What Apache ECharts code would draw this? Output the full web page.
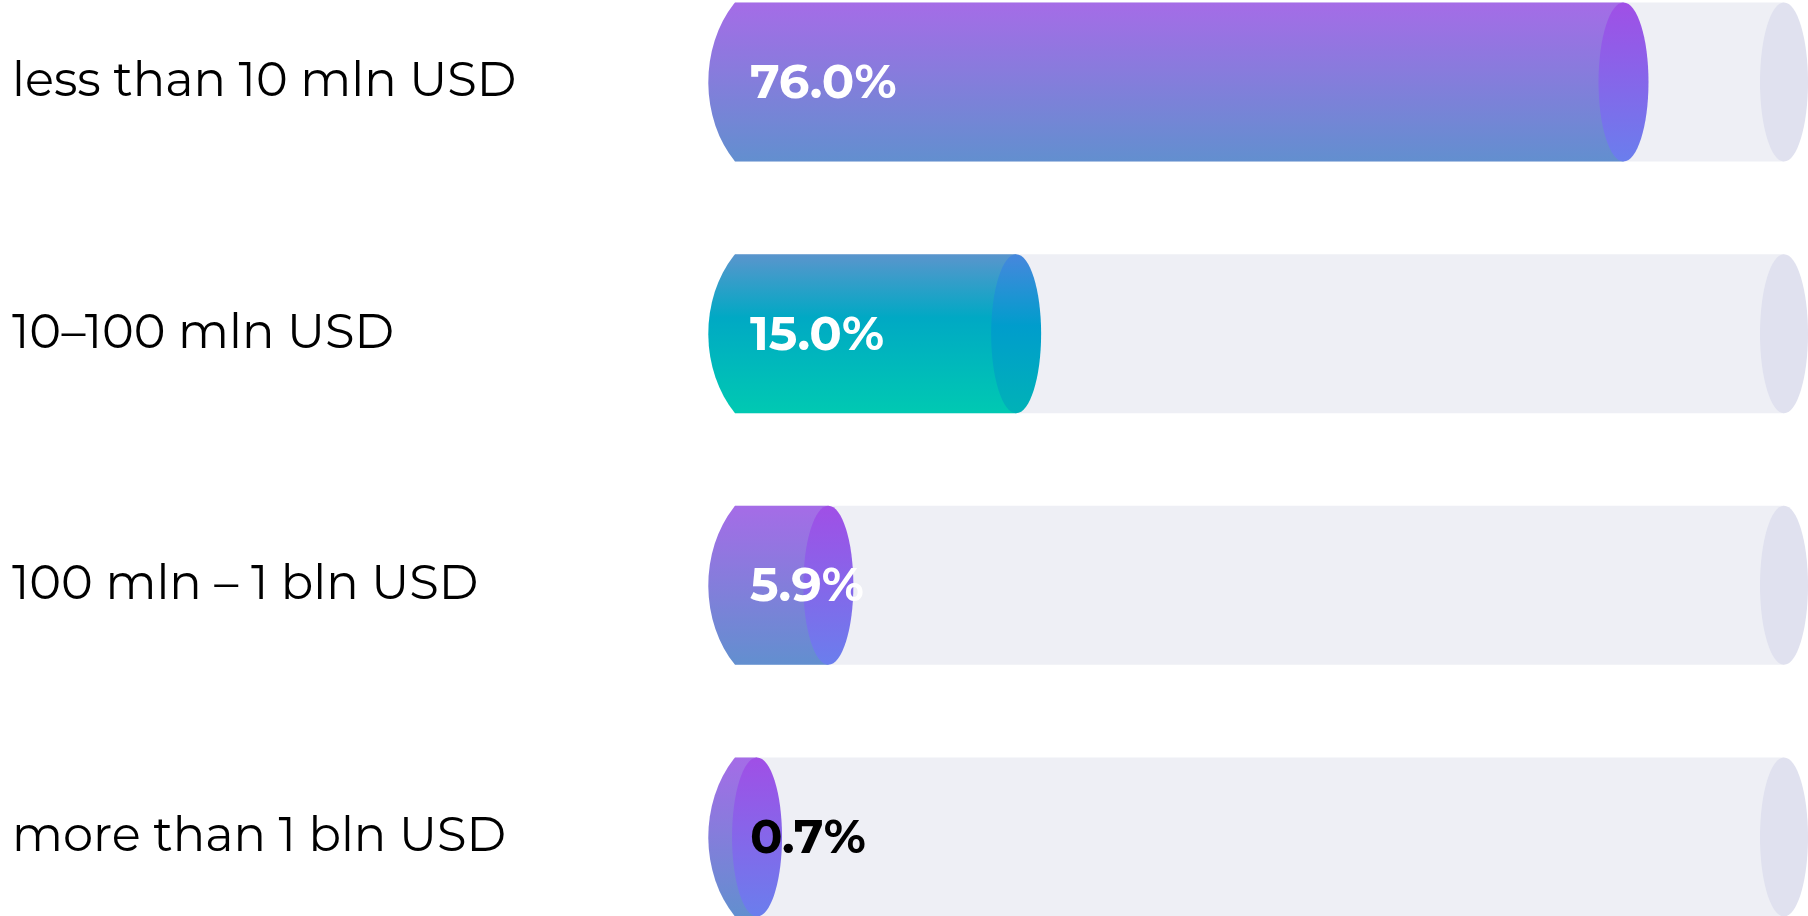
<!DOCTYPE html>
<html>
<head>
<meta charset="utf-8">
<script src="https://cdn.jsdelivr.net/npm/echarts@6/dist/echarts.min.js"></script>
<style>html,body{margin:0;padding:0;background:#fff;}#c{width:1808px;height:916px;}</style>
</head>
<body>
<div id="c"></div>
<script>
// categories (top to bottom)
const categories = ['less than 10 mln USD', '10–100 mln USD', '100 mln – 1 bln USD', 'more than 1 bln USD'];
// share labels shown on each cylinder (%)
const shares = [76.0, 15.0, 5.9, 0.7];
// drawn length of each cylinder, in % of the track
const barLengths = [84.7, 26.8, 8.9, 2.1];
// track full length (%)
const trackMax = [100, 100, 100, 100];
// colour theme per bar
const themes = ['purple', 'teal', 'purple', 'purple'];

const palettes = {
  purple: {
    body: [[0, '#a56ce7'], [1, '#628fcf']],
    cap: [[0, '#a04fe6'], [1, '#6a7eed']]
  },
  teal: {
    body: [[0, '#5a95cd'], [0.4, '#00a9c4'], [1, '#00c9b2']],
    cap: [[0, '#4787dd'], [0.45, '#009dcc'], [1, '#00b2b7']]
  }
};
function grad(stops) {
  return new echarts.graphic.LinearGradient(0, 0, 0, 1, stops.map(s => ({offset: s[0], color: s[1]})));
}

const data = categories.map((c, i) => [barLengths[i], i, shares[i], trackMax[i]]);

const chart = echarts.init(document.getElementById('c'), null, {renderer: 'canvas'});
chart.setOption({
  animation: false,
  backgroundColor: '#ffffff',
  grid: {left: 735, right: 24, top: 82, bottom: 79, containLabel: false},
  xAxis: {type: 'value', min: 0, max: 100, show: false},
  yAxis: {
    type: 'category', data: categories, inverse: true, boundaryGap: false,
    axisLine: {show: false}, axisTick: {show: false}, splitLine: {show: false},
    axisLabel: {
      align: 'left', margin: 723, color: '#000', padding: [5, 0, 0, 0],
      fontFamily: 'Montserrat, "Open Sans", sans-serif', fontSize: 48, fontWeight: 400
    }
  },
  series: [{
    type: 'custom',
    clip: false,
    data: data,
    encode: {x: 0, y: 1},
    renderItem: function (params, api) {
      const idx = params.dataIndex;
      const len = api.value(0);
      const cat = api.value(1);
      const share = api.value(2);
      const full = api.value(3);
      const band = api.size([0, 1])[1];
      const h = band * 0.632;
      const ry = h / 2;
      const p0 = api.coord([0, cat]);
      const pEnd = api.coord([len, cat]);
      const pFull = api.coord([full, cat]);
      const cy = p0[1];
      const top = cy - ry, bot = cy + ry;
      const rxF = 25, rxT = 24;
      // left end: arc of a larger ellipse, clipped to the bar height
      const arx = 89, ary = ry * 1.4;
      const x0 = p0[0], xe = pEnd[0];
      const bodyPath = 'M' + x0 + ',' + top + ' L' + xe + ',' + top + ' L' + xe + ',' + bot +
        ' L' + x0 + ',' + bot + ' A' + arx + ',' + ary + ' 0 0 1 ' + x0 + ',' + top + ' Z';
      const pal = palettes[themes[idx]];
      const children = [
        // track body
        {type: 'rect', shape: {x: x0, y: top, width: pFull[0] - x0, height: h}, style: {fill: '#eeeff5'}},
        // track end cap
        {type: 'ellipse', shape: {cx: pFull[0], cy: cy, rx: rxT, ry: ry}, style: {fill: '#e0e1ef'}},
        // bar body with rounded left end
        {type: 'path', shape: {pathData: bodyPath}, style: {fill: grad(pal.body)}},
        // bar front cap
        {type: 'ellipse', shape: {cx: xe, cy: cy, rx: rxF, ry: ry}, style: {fill: grad(pal.cap)}},
        // value label
        {type: 'text', style: {
          x: x0 + 15, y: cy + 2, text: share.toFixed(1) + '%',
          fill: share >= 1 ? '#ffffff' : '#000000',
          font: 'bold 48px Montserrat, "Open Sans", sans-serif',
          align: 'left', verticalAlign: 'middle'
        }}
      ];
      return {type: 'group', children: children};
    }
  }]
});
</script>
</body>
</html>
